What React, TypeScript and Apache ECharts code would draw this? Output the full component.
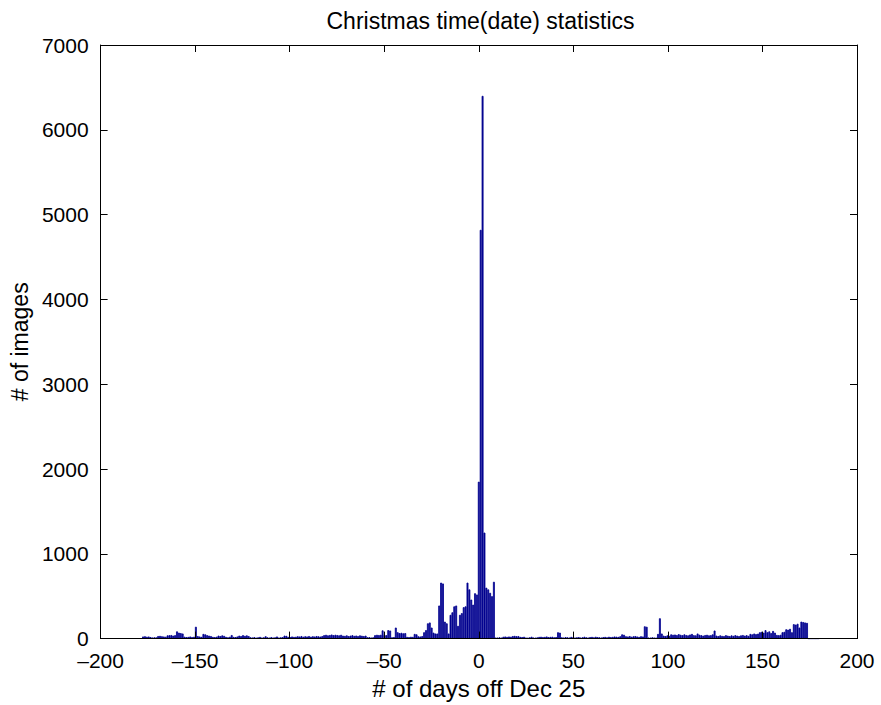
import React, { useEffect, useRef } from "react";
import * as echarts from "echarts";

// Days before Dec 25: -178 .. -30
const leftStart = -178;
const leftValues = [
  25, 28, 22, 25, 18, 12, 15, 14, 30, 32,
  28, 25, 22, 38, 40, 42, 35, 40, 85, 70,
  65, 60, 22, 18, 20, 25, 18, 22, 140, 30,
  25, 20, 55, 50, 40, 35, 30, 20, 18, 22,
  35, 30, 38, 32, 20, 15, 22, 42, 20, 18,
  25, 35, 30, 40, 32, 38, 30, 15, 12, 18,
  10, 15, 20, 12, 15, 28, 15, 10, 18, 12,
  15, 25, 12, 15, 18, 35, 32, 20, 18, 25,
  20, 22, 28, 25, 30, 22, 28, 25, 30, 22,
  28, 25, 30, 27, 24, 30, 40, 45, 38, 42,
  48, 40, 45, 42, 38, 45, 35, 32, 38, 30,
  35, 40, 32, 36, 30, 38, 34, 30, 35, 15,
  18, 12, 15, 40, 45, 42, 45, 97, 43, 40,
  100, 95, 15, 18, 130, 75, 65, 68, 62, 65,
  20, 18, 22, 20, 55, 50, 27, 25, 30,
];

// Days around Christmas: -29 .. 9
const centerStart = -29;
const centerValues = [
  75, 100, 180, 190, 130, 70, 60, 60, 390, 660,
  650, 200, 180, 60, 280, 310, 380, 390, 150, 280,
  300, 370, 380, 660, 580, 460, 400, 535, 520, 1850,
  4820, 6400, 1250, 600, 580, 540, 500, 670, 12,
];

// Days after Christmas: 10 .. 180
const rightStart = 10;
const rightValues = [
  12, 15, 10, 22, 25, 20, 25, 22, 30, 32,
  28, 30, 20, 18, 22, 12, 10, 15, 22, 12,
  10, 14, 20, 22, 18, 20, 25, 18, 20, 22,
  15, 18, 75, 70, 15, 12, 18, 15, 12, 20,
  15, 12, 15, 18, 12, 15, 22, 15, 12, 18,
  20, 15, 22, 18, 15, 12, 18, 20, 15, 22,
  18, 20, 25, 22, 20, 28, 50, 45, 28, 25,
  30, 22, 27, 30, 25, 20, 28, 25, 145, 140,
  12, 10, 15, 12, 10, 55, 240, 60, 35, 30,
  38, 32, 50, 45, 48, 42, 52, 45, 40, 50,
  42, 38, 48, 55, 40, 38, 60, 45, 40, 35,
  42, 45, 38, 40, 50, 95, 35, 30, 38, 32,
  30, 40, 35, 30, 38, 32, 40, 35, 30, 38,
  42, 35, 40, 32, 55, 50, 60, 52, 58, 75,
  80, 70, 100, 75, 85, 65, 90, 70, 43, 40,
  45, 75, 80, 110, 105, 115, 75, 170, 165, 175,
  130, 200, 195, 190, 185, 0, 0, 0, 0, 0,
  0,
];

const xTicks = [-200, -150, -100, -50, 0, 50, 100, 150, 200];
const yTicks = [0, 1000, 2000, 3000, 4000, 5000, 6000, 7000];

const titleText = "Christmas time(date) statistics";
const xName = "# of days off Dec 25";
const yName = "# of images";

function buildSeries() {
  const lookup = new Map<number, number>();
  leftValues.forEach((v, i) => lookup.set(leftStart + i, v));
  centerValues.forEach((v, i) => lookup.set(centerStart + i, v));
  rightValues.forEach((v, i) => lookup.set(rightStart + i, v));
  const days: string[] = [];
  const values: (number | null)[] = [];
  for (let d = xTicks[0]; d <= xTicks[xTicks.length - 1]; d++) {
    days.push(String(d));
    values.push(lookup.has(d) ? (lookup.get(d) as number) : null);
  }
  return { days, values };
}

export default function App() {
  const ref = useRef<HTMLDivElement>(null);
  useEffect(() => {
    if (!ref.current) return;
    const chart = echarts.init(ref.current, undefined, { renderer: "svg" });
    const font = "'Liberation Sans', Arial, Helvetica, sans-serif";
    const gridLeft = 94;
    const gridRight = 24;
    const plotWidth = 881 - gridLeft - gridRight;
    const lineStyle = { color: "#000", width: 1 };
    const tick = { show: true, inside: true, length: 7, lineStyle };
    const barColor = "#00008F";
    const { days, values } = buildSeries();
    chart.setOption({
      animation: false,
      backgroundColor: "#fff",
      title: {
        text: titleText,
        left: gridLeft + plotWidth / 2,
        textAlign: "center",
        top: 4,
        textStyle: { fontFamily: font, fontSize: 23, fontWeight: "normal", color: "#000" },
      },
      grid: { left: gridLeft, right: gridRight, top: 45, bottom: 62 },
      xAxis: [
        {
          type: "value",
          position: "bottom",
          min: xTicks[0],
          max: xTicks[xTicks.length - 1],
          interval: 50,
          axisLine: { show: true, onZero: false, lineStyle },
          axisTick: tick,
          splitLine: { show: false },
          axisLabel: {
            color: "#000",
            fontFamily: font,
            fontSize: 21,
            margin: 12,
            lineHeight: 20,
            formatter: (v: number) => String(v).replace("-", "\u2013"),
          },
          name: xName,
          nameLocation: "middle",
          nameGap: 29,
          nameTextStyle: { color: "#000", fontFamily: font, fontSize: 24 },
          z: 5,
        },
        {
          type: "value",
          position: "top",
          min: xTicks[0],
          max: xTicks[xTicks.length - 1],
          interval: 50,
          axisLine: { show: true, onZero: false, lineStyle },
          axisTick: tick,
          splitLine: { show: false },
          axisLabel: { show: false },
        },
        {
          type: "category",
          data: days,
          show: false,
          boundaryGap: true,
          position: "bottom",
        },
      ],
      yAxis: [
        {
          type: "value",
          position: "left",
          min: yTicks[0],
          max: yTicks[yTicks.length - 1],
          interval: 1000,
          axisLine: { show: true, onZero: false, lineStyle },
          axisTick: tick,
          splitLine: { show: false },
          axisLabel: {
            color: "#000",
            fontFamily: font,
            fontSize: 21,
            margin: 12,
            lineHeight: 14,
            formatter: (v: number) => String(v),
          },
          name: yName,
          nameLocation: "middle",
          nameGap: 66,
          nameTextStyle: { color: "#000", fontFamily: font, fontSize: 23 },
        },
        {
          type: "value",
          position: "right",
          min: yTicks[0],
          max: yTicks[yTicks.length - 1],
          interval: 1000,
          axisLine: { show: true, onZero: false, lineStyle },
          axisTick: tick,
          splitLine: { show: false },
          axisLabel: { show: false },
        },
      ],
      series: [
        {
          type: "bar",
          xAxisIndex: 2,
          yAxisIndex: 0,
          data: values,
          barCategoryGap: "0%",
          itemStyle: { color: barColor, borderColor: barColor, borderWidth: 0.8 },
          z: 1,
        },
      ],
    });
    return () => chart.dispose();
  }, []);
  return (
    <div
      ref={ref}
      style={{ position: "fixed", left: 0, top: 0, width: 881, height: 705 }}
    />
  );
}
